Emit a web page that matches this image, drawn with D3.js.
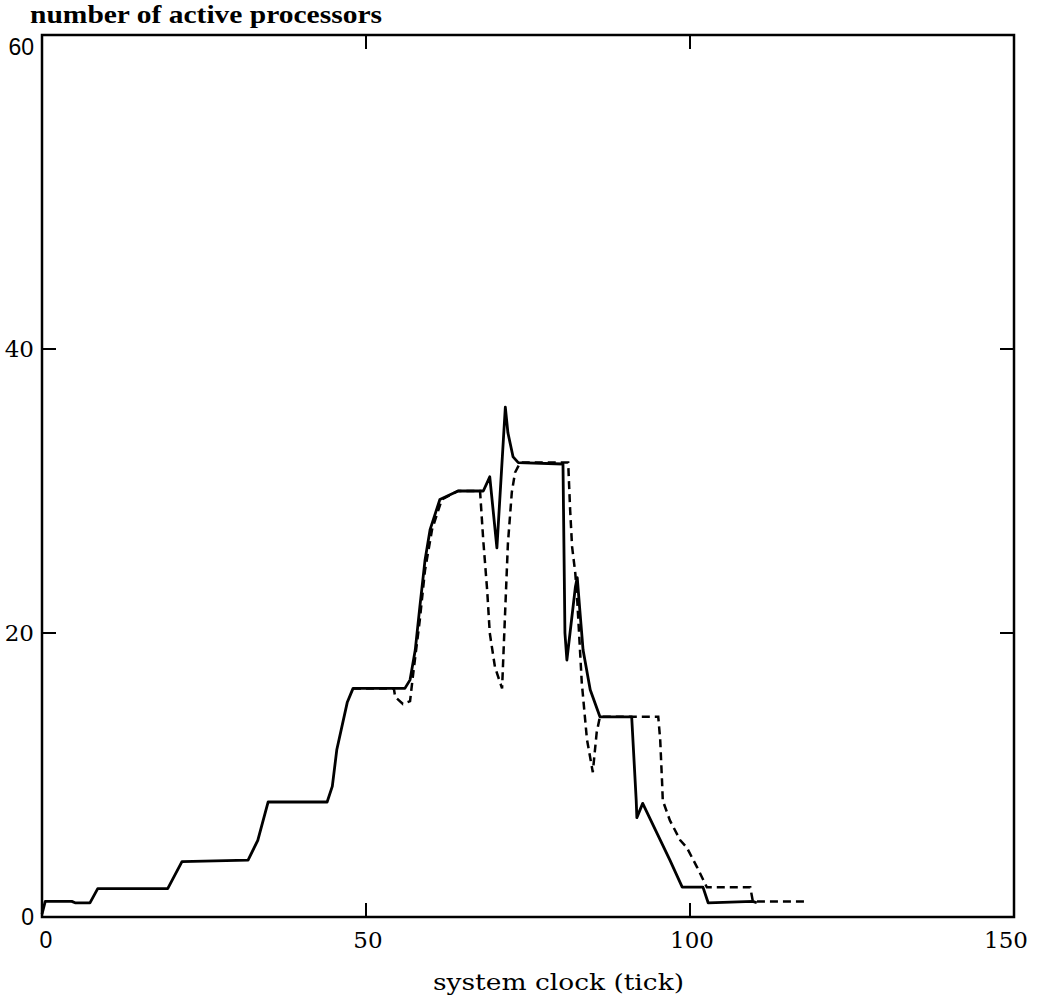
<!DOCTYPE html>
<html>
<head>
<meta charset="utf-8">
<script src="https://cdn.jsdelivr.net/npm/d3@7"></script>
<style>
  body { margin: 0; background: #fff; }
  text { font-family: "DejaVu Serif", serif; fill: #000; }
</style>
</head>
<body>
<div class="svg"></div>
<script>
//============= DATA ==============//
// solid curve
const solidTicks = [0, 0.5, 4.6, 5.1, 7.4, 8.6, 19.4, 21.6, 31.8, 33.3, 34.9, 44.0, 44.8, 45.5, 47.1, 48.0,
  56.0, 56.8, 57.6, 58.3, 59.1, 59.9, 61.4, 64.2, 68.1, 69.1, 70.2, 71.5, 71.9, 72.7, 73.5, 80.4,
  80.7, 81.0, 82.3, 82.6, 83.0, 83.5, 84.6, 86.1, 91.0, 91.7, 91.8, 92.7, 94.9, 96.9, 98.8, 102.0,
  102.8, 109.7, 110.3];
const solidProcs = [0.2, 1.1, 1.1, 1.0, 1.0, 2.0, 2.0, 3.9, 4.0, 5.4, 8.1, 8.1, 9.2, 11.8, 15.1, 16.1,
  16.1, 16.7, 18.8, 21.8, 25.1, 27.3, 29.4, 30.0, 30.0, 31.0, 26.0, 35.9, 34.1, 32.4, 32.0, 31.9,
  20.0, 18.1, 23.2, 23.9, 21.6, 18.8, 16.0, 14.1, 14.1, 8.2, 7.0, 8.0, 5.9, 4.0, 2.1, 2.1,
  1.0, 1.1, 1.0];

// dashed curve (joins the solid one below tick 48)
const dashTicks = [48.0, 54.3, 54.5, 55.7, 56.8, 57.3, 58.3, 59.1, 60.2, 61.7, 64.2, 67.6, 68.1, 68.7,
  69.1, 69.9, 71.0, 71.5, 71.9, 72.5, 73.0, 73.8, 81.2, 81.5, 81.8, 82.3, 82.6, 83.3, 84.1, 85.0,
  85.6, 86.1, 95.1, 95.4, 95.7, 95.8, 96.9, 98.5, 99.5, 101.1, 102.6, 109.3, 109.7, 118.1];
const dashProcs = [16.1, 16.1, 15.5, 15.0, 15.2, 17.2, 20.9, 24.4, 27.3, 29.4, 30.0, 30.0, 26.5, 23.0,
  20.0, 17.6, 16.1, 21.8, 26.3, 29.9, 31.3, 32.0, 32.0, 28.7, 26.1, 24.2, 22.3, 16.5, 12.5, 10.2,
  13.0, 14.1, 14.1, 12.5, 9.4, 8.2, 6.8, 5.4, 4.9, 3.5, 2.1, 2.1, 1.1, 1.1];

const xTickValues = [0, 50, 100, 150];
const yTickValues = [0, 20, 40, 60];
const innerXTicks = [50, 100];
const innerYTicks = [20, 40];

//============= SETUP ==============//
const W = 1038, H = 1002;
const margin = { left: 42, right: 1014, top: 35, bottom: 917 };

const svg = d3.select(".svg").append("svg")
  .attr("width", W).attr("height", H);

const x = d3.scaleLinear().domain([0, 150]).range([margin.left, margin.right]);
// the scanned axis is not quite even, so pin the labelled ticks
const y = d3.scaleLinear().domain([0, 20, 40, 60]).range([margin.bottom, 633, 349, margin.top]);

// frame
svg.append("rect")
  .attr("x", margin.left).attr("y", margin.top)
  .attr("width", margin.right - margin.left).attr("height", margin.bottom - margin.top)
  .attr("fill", "none").attr("stroke", "#000").attr("stroke-width", 2.5);

// inner ticks on all four sides
const tickLen = 14;
svg.selectAll(".tb").data(innerXTicks).enter().append("line")
  .attr("x1", d => x(d)).attr("x2", d => x(d))
  .attr("y1", margin.bottom).attr("y2", margin.bottom - tickLen)
  .attr("stroke", "#000").attr("stroke-width", 2);
svg.selectAll(".tt").data(innerXTicks).enter().append("line")
  .attr("x1", d => x(d)).attr("x2", d => x(d))
  .attr("y1", margin.top).attr("y2", margin.top + tickLen)
  .attr("stroke", "#000").attr("stroke-width", 2);
svg.selectAll(".tl").data(innerYTicks).enter().append("line")
  .attr("x1", margin.left).attr("x2", margin.left + tickLen)
  .attr("y1", d => y(d)).attr("y2", d => y(d))
  .attr("stroke", "#000").attr("stroke-width", 2);
svg.selectAll(".tr").data(innerYTicks).enter().append("line")
  .attr("x1", margin.right).attr("x2", margin.right - tickLen)
  .attr("y1", d => y(d)).attr("y2", d => y(d))
  .attr("stroke", "#000").attr("stroke-width", 2);

// tick labels
svg.selectAll(".xl").data(xTickValues).enter().append("text")
  .attr("x", d => x(d) + (d === 0 ? 4 : d === 150 ? -8 : 2))
  .attr("y", 948)
  .attr("text-anchor", "middle")
  .attr("font-size", 23)
  .style("font-family", d => d === 0 ? "'Liberation Sans', sans-serif" : null)
  .text(d => d);

svg.selectAll(".yl").data(yTickValues).enter().append("text")
  .attr("x", 34)
  .attr("y", d => y(d) + (d === 60 ? 20 : 8))
  .attr("text-anchor", "end")
  .attr("font-size", 23)
  .style("font-family", d => (d === 0 || d === 60) ? "'Liberation Sans', sans-serif" : null)
  .text(d => d);

// titles
svg.append("text")
  .attr("x", 30).attr("y", 23)
  .attr("font-size", 26).attr("font-weight", "bold")
  .style("font-family", "'Liberation Serif', serif")
  .attr("textLength", 352).attr("lengthAdjust", "spacingAndGlyphs")
  .text("number of active processors");

svg.append("text")
  .attr("x", 433).attr("y", 990)
  .attr("font-size", 23)
  .attr("textLength", 251).attr("lengthAdjust", "spacingAndGlyphs")
  .text("system clock (tick)");

//============= CURVES ==============//
const line = d3.line().x(d => x(d[0])).y(d => y(d[1]));

svg.append("path")
  .datum(dashTicks.map((t, i) => [t, dashProcs[i]]))
  .attr("d", line)
  .attr("fill", "none").attr("stroke", "#000")
  .attr("stroke-width", 2.5).attr("stroke-dasharray", "8,5");

svg.append("path")
  .datum(solidTicks.map((t, i) => [t, solidProcs[i]]))
  .attr("d", line)
  .attr("fill", "none").attr("stroke", "#000")
  .attr("stroke-width", 2.8).attr("stroke-linejoin", "round");
</script>
</body>
</html>
